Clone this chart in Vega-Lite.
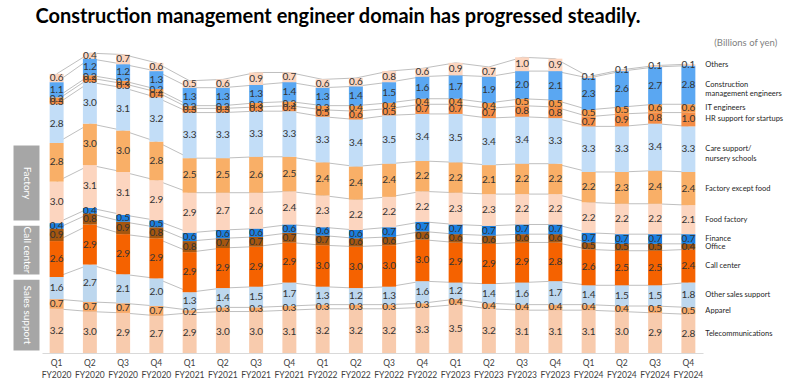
{
  "$schema": "https://vega.github.io/schema/vega-lite/v6.json",
  "padding": {"left": 8, "top": 6, "right": 2, "bottom": 2},
  "background": "white",
  "title": {"text": "Construction management engineer domain has progressed steadily.", "anchor": "start", "font": "Lato", "fontSize": 20, "fontWeight": "bold", "color": "#000000", "dx": 27, "offset": 11},
  "datasets": {
    "quarters": [
      {"q": "FY2020 Q1", "tel": 3.2, "app": 0.7, "oss": 1.6, "cc": 2.6, "off": 0.9, "fin": 0.4, "food": 3.0, "fac": 2.8, "care": 2.8, "hr": 0.3, "it": 0.2, "con": 1.1, "oth": 0.6},
      {"q": "FY2020 Q2", "tel": 3.0, "app": 0.7, "oss": 2.7, "cc": 2.9, "off": 0.8, "fin": 0.4, "food": 3.1, "fac": 3.0, "care": 3.0, "hr": 0.3, "it": 0.2, "con": 1.2, "oth": 0.4},
      {"q": "FY2020 Q3", "tel": 2.9, "app": 0.7, "oss": 2.1, "cc": 2.9, "off": 0.9, "fin": 0.5, "food": 3.1, "fac": 3.0, "care": 3.1, "hr": 0.3, "it": 0.2, "con": 1.2, "oth": 0.7},
      {"q": "FY2020 Q4", "tel": 2.7, "app": 0.7, "oss": 2.0, "cc": 2.9, "off": 0.8, "fin": 0.5, "food": 2.9, "fac": 2.8, "care": 3.2, "hr": 0.4, "it": 0.2, "con": 1.3, "oth": 0.6},
      {"q": "FY2021 Q1", "tel": 2.9, "app": 0.2, "oss": 1.3, "cc": 2.9, "off": 0.8, "fin": 0.6, "food": 2.9, "fac": 2.5, "care": 3.3, "hr": 0.3, "it": 0.2, "con": 1.3, "oth": 0.5},
      {"q": "FY2021 Q2", "tel": 3.0, "app": 0.3, "oss": 1.4, "cc": 2.9, "off": 0.7, "fin": 0.6, "food": 2.7, "fac": 2.5, "care": 3.3, "hr": 0.3, "it": 0.2, "con": 1.3, "oth": 0.6},
      {"q": "FY2021 Q3", "tel": 3.0, "app": 0.3, "oss": 1.5, "cc": 2.9, "off": 0.7, "fin": 0.6, "food": 2.6, "fac": 2.6, "care": 3.3, "hr": 0.3, "it": 0.3, "con": 1.3, "oth": 0.9},
      {"q": "FY2021 Q4", "tel": 3.1, "app": 0.3, "oss": 1.7, "cc": 2.9, "off": 0.7, "fin": 0.6, "food": 2.4, "fac": 2.5, "care": 3.3, "hr": 0.4, "it": 0.3, "con": 1.4, "oth": 0.7},
      {"q": "FY2022 Q1", "tel": 3.2, "app": 0.3, "oss": 1.3, "cc": 3.0, "off": 0.7, "fin": 0.6, "food": 2.3, "fac": 2.4, "care": 3.3, "hr": 0.5, "it": 0.3, "con": 1.3, "oth": 0.6},
      {"q": "FY2022 Q2", "tel": 3.2, "app": 0.3, "oss": 1.2, "cc": 3.0, "off": 0.6, "fin": 0.6, "food": 2.2, "fac": 2.4, "care": 3.4, "hr": 0.6, "it": 0.4, "con": 1.4, "oth": 0.6},
      {"q": "FY2022 Q3", "tel": 3.2, "app": 0.3, "oss": 1.3, "cc": 3.0, "off": 0.6, "fin": 0.7, "food": 2.2, "fac": 2.4, "care": 3.5, "hr": 0.5, "it": 0.4, "con": 1.5, "oth": 0.8},
      {"q": "FY2022 Q4", "tel": 3.3, "app": 0.3, "oss": 1.6, "cc": 3.0, "off": 0.6, "fin": 0.7, "food": 2.2, "fac": 2.2, "care": 3.4, "hr": 0.7, "it": 0.4, "con": 1.6, "oth": 0.6},
      {"q": "FY2023 Q1", "tel": 3.5, "app": 0.4, "oss": 1.2, "cc": 2.9, "off": 0.6, "fin": 0.7, "food": 2.3, "fac": 2.2, "care": 3.5, "hr": 0.7, "it": 0.4, "con": 1.7, "oth": 0.9},
      {"q": "FY2023 Q2", "tel": 3.2, "app": 0.4, "oss": 1.4, "cc": 2.9, "off": 0.6, "fin": 0.7, "food": 2.3, "fac": 2.1, "care": 3.4, "hr": 0.7, "it": 0.4, "con": 1.9, "oth": 0.7},
      {"q": "FY2023 Q3", "tel": 3.1, "app": 0.4, "oss": 1.6, "cc": 2.9, "off": 0.6, "fin": 0.7, "food": 2.2, "fac": 2.2, "care": 3.4, "hr": 0.8, "it": 0.5, "con": 2.0, "oth": 1.0},
      {"q": "FY2023 Q4", "tel": 3.1, "app": 0.4, "oss": 1.7, "cc": 2.8, "off": 0.6, "fin": 0.7, "food": 2.2, "fac": 2.2, "care": 3.3, "hr": 0.8, "it": 0.5, "con": 2.1, "oth": 0.9},
      {"q": "FY2024 Q1", "tel": 3.1, "app": 0.4, "oss": 1.4, "cc": 2.6, "off": 0.5, "fin": 0.7, "food": 2.2, "fac": 2.2, "care": 3.3, "hr": 0.7, "it": 0.5, "con": 2.3, "oth": 0.1},
      {"q": "FY2024 Q2", "tel": 3.0, "app": 0.4, "oss": 1.5, "cc": 2.5, "off": 0.5, "fin": 0.7, "food": 2.2, "fac": 2.3, "care": 3.3, "hr": 0.9, "it": 0.5, "con": 2.6, "oth": 0.1},
      {"q": "FY2024 Q3", "tel": 2.9, "app": 0.5, "oss": 1.5, "cc": 2.5, "off": 0.5, "fin": 0.7, "food": 2.2, "fac": 2.4, "care": 3.4, "hr": 0.8, "it": 0.6, "con": 2.7, "oth": 0.1},
      {"q": "FY2024 Q4", "tel": 2.8, "app": 0.5, "oss": 1.8, "cc": 2.4, "off": 0.4, "fin": 0.7, "food": 2.1, "fac": 2.4, "care": 3.3, "hr": 1.0, "it": 0.6, "con": 2.8, "oth": 0.1}
    ],
    "series": [
      {"key": "tel", "name": "Telecommunications", "ord": 1, "grp": "Sales support"},
      {"key": "app", "name": "Apparel", "ord": 2, "grp": "Sales support"},
      {"key": "oss", "name": "Other sales support", "ord": 3, "grp": "Sales support"},
      {"key": "cc", "name": "Call center", "ord": 4, "grp": "Call center"},
      {"key": "off", "name": "Office", "ord": 5, "grp": "Call center"},
      {"key": "fin", "name": "Finance", "ord": 6, "grp": "Call center"},
      {"key": "food", "name": "Food factory", "ord": 7, "grp": "Factory"},
      {"key": "fac", "name": "Factory except food", "ord": 8, "grp": "Factory"},
      {"key": "care", "name": "Care support/\nnursery schools", "ord": 9},
      {"key": "hr", "name": "HR support for startups", "ord": 10},
      {"key": "it", "name": "IT engineers", "ord": 11},
      {"key": "con", "name": "Construction\nmanagement engineers", "ord": 12},
      {"key": "oth", "name": "Others", "ord": 13}
    ]
  },
  "data": {"name": "quarters"},
  "transform": [
    {"fold": ["tel", "app", "oss", "cc", "off", "fin", "food", "fac", "care", "hr", "it", "con", "oth"], "as": ["key", "value"]},
    {"lookup": "key", "from": {"data": {"name": "series"}, "key": "key", "fields": ["name", "ord", "grp"]}},
    {"stack": "value", "groupby": ["q"], "sort": [{"field": "ord", "order": "ascending"}], "as": ["y0", "y1"]},
    {"calculate": "(datum.y0 + datum.y1) / 2", "as": "mid"}
  ],
  "spacing": 0,
  "bounds": "flush",
  "hconcat": [
    {
      "width": 31,
      "height": 304,
      "transform": [
        {"filter": "datum.q == 'FY2020 Q1' && isValid(datum.grp)"},
        {"aggregate": [{"op": "min", "field": "y0", "as": "lo"}, {"op": "max", "field": "y1", "as": "hi"}], "groupby": ["grp"]},
        {"calculate": "(datum.lo + datum.hi) / 2", "as": "gmid"}
      ],
      "layer": [
        {
          "mark": {"type": "rect", "color": "#A6A6A6", "stroke": "white", "strokeWidth": 5},
          "encoding": {
            "y": {"field": "lo", "type": "quantitative", "scale": {"domain": [0, 22]}, "axis": null},
            "y2": {"field": "hi"}
          }
        },
        {
          "mark": {"type": "text", "angle": 90, "color": "white", "fontSize": 10, "font": "Lato", "baseline": "middle", "align": "center"},
          "encoding": {
            "y": {"field": "gmid", "type": "quantitative", "scale": {"domain": [0, 22]}, "axis": null},
            "text": {"field": "grp"}
          }
        }
      ]
    },
    {
      "width": 661,
      "height": 304,
      "title": {"text": "(Billions of yen)", "anchor": "end", "frame": "bounds", "font": "Lato", "fontSize": 9.5, "fontWeight": "normal", "color": "#7F7F7F", "offset": 2, "dx": -6},
      "encoding": {
        "x": {
          "field": "q", "type": "ordinal",
          "scale": {"paddingInner": 0.58, "paddingOuter": 0.23},
          "axis": {"title": null, "labelAngle": 0, "ticks": false, "domainColor": "#D9D9D9", "labelExpr": "[split(datum.label, ' ')[1], split(datum.label, ' ')[0]]", "labelFont": "Lato", "labelFontSize": 8.5, "labelColor": "#404040", "labelLineHeight": 12, "labelPadding": 5}
        }
      },
      "layer": [
        {
          "mark": {"type": "line", "color": "#BFBFBF", "strokeWidth": 1},
          "encoding": {
            "y": {"field": "y1", "type": "quantitative", "scale": {"domain": [0, 22]}, "axis": null},
            "detail": {"field": "key"}
          }
        },
        {
          "mark": {"type": "bar"},
          "encoding": {
            "y": {"field": "y0", "type": "quantitative", "scale": {"domain": [0, 22]}, "axis": null},
            "y2": {"field": "y1"},
            "color": {
              "field": "key", "type": "nominal", "legend": null,
              "scale": {
                "domain": ["tel", "app", "oss", "cc", "off", "fin", "food", "fac", "care", "hr", "it", "con", "oth"],
                "range": ["#F8CBAD", "#F8A968", "#BDD7EE", "#F56200", "#A5560F", "#1A7FE0", "#FCD5BF", "#F9AF67", "#C2DDF7", "#F48C45", "#F79646", "#5AA7F2", "#FCD5BF"]
              }
            }
          }
        },
        {
          "mark": {"type": "text", "font": "Lato", "fontSize": 10, "color": "#333333", "baseline": "middle"},
          "encoding": {
            "y": {"field": "mid", "type": "quantitative"},
            "text": {"field": "value", "type": "quantitative", "format": ".1f"}
          }
        },
        {
          "transform": [{"filter": "datum.q == 'FY2024 Q4'"}],
          "mark": {"type": "text", "font": "Lato", "fontSize": 7.5, "color": "#262626", "align": "left", "baseline": "middle", "dx": 17, "lineBreak": "\n", "lineHeight": 9.5},
          "encoding": {
            "y": {"field": "mid", "type": "quantitative"},
            "text": {"field": "name"}
          }
        }
      ]
    }
  ],
  "config": {"view": {"stroke": null}, "font": "Lato"}
}
